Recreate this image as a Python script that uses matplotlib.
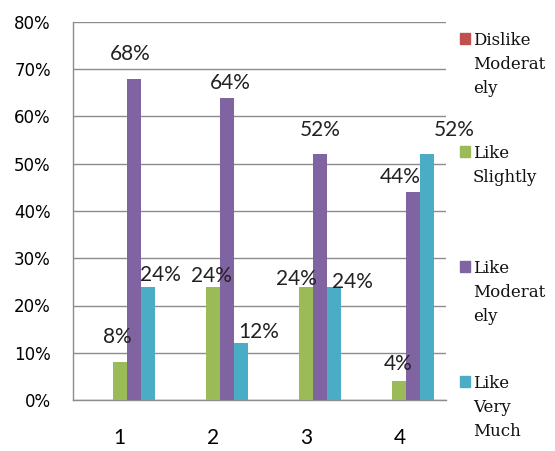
import numpy as np
import matplotlib.pyplot as plt
from matplotlib.patches import Rectangle

groups = ["1", "2", "3", "4"]
series = ["Dislike\nModerat\nely", "Like\nSlightly", "Like\nModerat\nely", "Like\nVery\nMuch"]
dislike_mod = [0, 0, 0, 0]
like_slightly = [8, 24, 24, 4]
like_mod = [68, 64, 52, 44]
like_very = [24, 12, 24, 52]
yticks = [0, 10, 20, 30, 40, 50, 60, 70, 80]

colors = ["#C0504D", "#9BBB59", "#8064A2", "#4BACC6"]
# hand-placed label nudges in pixels (dx, dy above bar top)
label_nudge = [
    None,
    [(-2, 19), (-1, 5), (-10, 2), (-1, 11)],
    [(-3, 19), (3, 9), (0, 18), (-13, 9)],
    [(13, 6), (18, 5), (18, -1), (27, 18)],
]

fig = plt.figure(figsize=(5.55, 4.51), dpi=100)
ax = fig.add_axes([73 / 555, 51 / 451, 373 / 555, 378 / 451])

x = np.arange(len(groups))
w = 0.15
offsets = [-w, 0, w, 2 * w]
all_vals = [dislike_mod, like_slightly, like_mod, like_very]

for i, vals in enumerate(all_vals):
    bars = ax.bar(x + offsets[i], vals, width=w, color=colors[i], zorder=3)
    if label_nudge[i] is None:
        continue
    for b, v, (dx, dy) in zip(bars, vals, label_nudge[i]):
        ax.annotate(f"{v}%", (b.get_x() + b.get_width() / 2, v),
                    xytext=(dx, dy), textcoords="offset pixels",
                    ha="center", va="baseline", fontsize=15,
                    family="Lato", color="#222222", zorder=4)

ax.set_xlim(-0.5, len(groups) - 0.5)
ax.set_ylim(0, 80)
ax.set_yticks(yticks)
ax.set_yticklabels([f"{t}%" for t in yticks], fontsize=12, family="DejaVu Sans")
ax.set_xticks(x)
ax.set_xticklabels(groups, fontsize=15, family="Lato")
ax.tick_params(axis="y", length=0, pad=16)
ax.tick_params(axis="x", length=0, pad=20)
ax.grid(axis="y", color="#8C8C8C", linewidth=1, zorder=0)
for s in ["top", "right"]:
    ax.spines[s].set_visible(False)
for s in ["left", "bottom"]:
    ax.spines[s].set_color("#8C8C8C")
    ax.spines[s].set_linewidth(1)

# legend on the right, square beside the first line of each entry
first_base = [45, 158, 273, 388]
for name, c, yb in zip(series, colors, first_base):
    fig.patches.append(Rectangle((460 / 555, 1 - (yb - 1) / 451), 10 / 555, 11 / 451,
                                 transform=fig.transFigure, color=c))
    for k, line in enumerate(name.split("\n")):
        fig.text(473 / 555, 1 - (yb + 24 * k) / 451, line, fontsize=12,
                 family="DejaVu Serif", va="baseline", ha="left", color="#111111")

fig.savefig("out.png", dpi=100)
